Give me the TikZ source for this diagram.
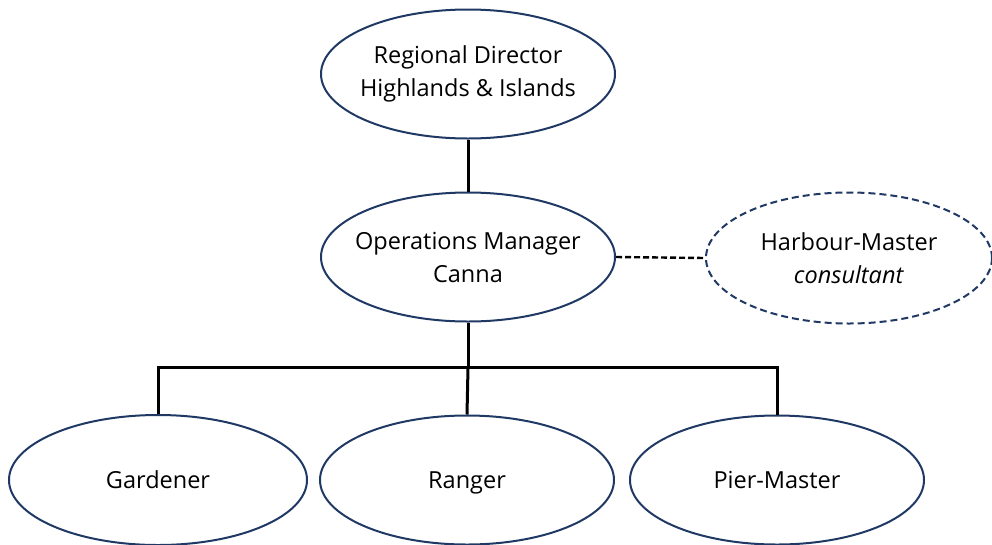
\documentclass[tikz,border=0pt]{standalone}
\usepackage{fontspec}
\setmainfont{Open Sans}
\usepackage{tikz}
\usetikzlibrary{shapes.geometric, positioning}
\definecolor{navy}{HTML}{1F3864}
\tikzstyle{post} = [ellipse, draw=navy, line width=2pt, inner xsep=-30pt, inner ysep=-10pt, align=center, minimum width=294pt, minimum height=129pt, font=\fontsize{23.5}{33}\selectfont]
\tikzstyle{staff} = [post, text height=17pt, text depth=0pt]
\tikzstyle{advisor} = [post, dash pattern=on 7pt off 4pt]
\tikzstyle{link} = [black, line width=3pt]

\begin{document}
\begin{tikzpicture}[x=1pt, y=-1pt]
    \useasboundingbox (0,0) rectangle (992,544);

    % Top level
    \node[post] (dir) at (468, 74) {Regional Director\\Highlands \& Islands};

    % Manager and adviser
    \node[post] (ops) at (468, 257) {Operations Manager\\Canna};
    \node[advisor, minimum width=286pt, minimum height=131pt] (harb) at (849, 258) {Harbour-Master\\\textit{consultant}};

    % Staff
    \node[staff, minimum width=298pt, minimum height=130pt] (gard) at (158, 480) {Gardener};
    \node[staff] (rang) at (467, 480) {Ranger};
    \node[staff] (pier) at (777, 480) {Pier-Master};

    % Lines
    \draw[link] (dir.south) -- (ops.north);
    \draw[link, line width=2.4pt, dash pattern=on 6pt off 3pt] (ops.east) -- (harb.west);
    \draw[link] (ops.south) -- ++(0, 45) coordinate (bus);
    \draw[link] (gard.north) |- (bus) -| (pier.north);
    \draw[link] (bus) -- (rang.north);
\end{tikzpicture}
\end{document}
